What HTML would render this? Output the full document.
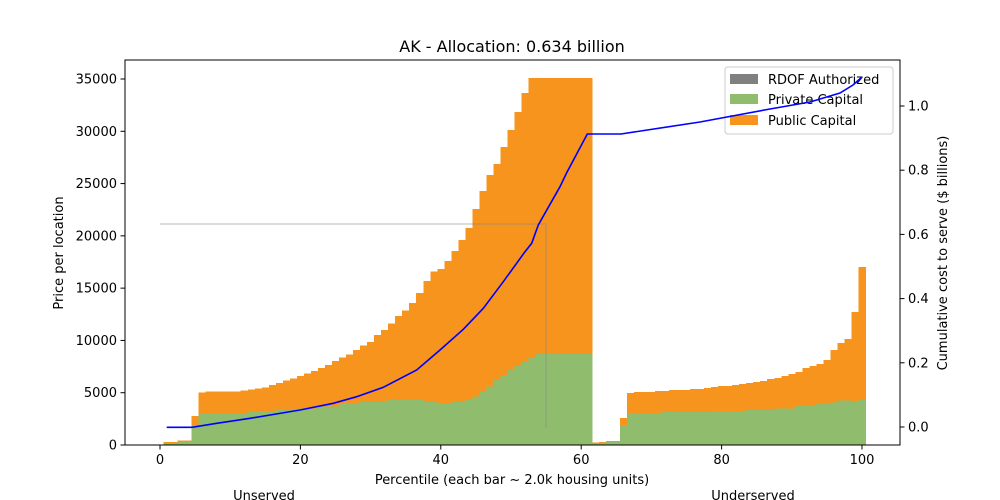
<!DOCTYPE html>
<html><head><meta charset="utf-8"><style>
body{margin:0;background:#fff}
svg{display:block;font-family:"DejaVu Sans","Liberation Sans",sans-serif}
</style></head><body>
<svg id="s" width="1000" height="500" xmlns="http://www.w3.org/2000/svg">
<rect width="1000" height="500" fill="#fff"/>
<g id="bars" shape-rendering="crispEdges"></g>
<polyline points="160,224 546,224 546,428" fill="none" stroke="#888" stroke-opacity="0.3" stroke-width="2"/>
<rect x="125" y="60" width="775" height="385" fill="none" stroke="#000" stroke-width="1"/>
<g id="ticks" font-size="13" fill="#000"></g>
<text x="512" y="52" font-size="16" text-anchor="middle">AK - Allocation: 0.634 billion</text>
<text x="512" y="484" font-size="13" text-anchor="middle">Percentile (each bar ~ 2.0k housing units)</text>
<text x="264" y="500" font-size="13" text-anchor="middle">Unserved</text>
<text x="753" y="500" font-size="13" text-anchor="middle">Underserved</text>
<text transform="translate(63,253) rotate(-90)" font-size="13" text-anchor="middle">Price per location</text>
<text transform="translate(947,253) rotate(-90)" font-size="13" text-anchor="middle">Cumulative cost to serve ($ billions)</text>
<g>
<rect x="725" y="67" width="168" height="67" rx="3" fill="#fff" fill-opacity="0.8" stroke="#ccc"/>
<rect x="730" y="74" width="28" height="10" fill="#808080"/>
<rect x="730" y="94" width="28" height="10" fill="#90bd6d"/>
<rect x="730" y="115" width="28" height="10" fill="#f7941e"/>
<text x="768" y="84" font-size="13">RDOF Authorized</text>
<text x="768" y="104" font-size="13">Private Capital</text>
<text x="768" y="125" font-size="13">Public Capital</text>
</g>
<polyline id="cum" fill="none" stroke="#0000ff" stroke-width="1.6"/>
</svg>
<script>
(function(){
var NS="http://www.w3.org/2000/svg";
function el(p,t,a){var e=document.createElementNS(NS,t);for(var k in a)e.setAttribute(k,a[k]);p.appendChild(e);return e;}
var bars=document.getElementById("bars");
var tp={},grn={};
tp[1]=442;tp[2]=442;tp[3]=440.5;tp[4]=440.5;tp[5]=416;
grn[1]=443;grn[2]=443;grn[3]=442;grn[4]=442;grn[5]=425;
var zt=[997,995,995,995,995,995,992,989,986,982,975,969,962,956,948,940,933,924,915,903,893,883,870,856,846,825,810,790,768,752,729,699,663,635,627,603,573,540,504,447,393,345,312,261,210,156,99,54,54,54,54,54,54,54,54,54];
var zg=[1060,1060,1060,1060,1060,1060,1060,1055,1055,1055,1055,1050,1050,1050,1045,1045,1045,1040,1040,1040,1030,1030,1030,1025,1025,1025,1025,1020,1020,1020,1020,1020,1025,1025,1030,1030,1025,1025,1018,1010,995,980,960,945,930,918,905,892,880,880,880,880,880,880,880,880];
for(var i=6;i<=61;i++){tp[i]=60+zt[i-6]/3;grn[i]=60+zg[i-6]/3;}
var rt={62:578,63:576,64:573,65:573,66:504,67:429,68:426,69:426,70:426,71:423,72:423,73:420,74:420,75:420,76:417,77:417,78:414,79:411,80:408,81:408,82:405,83:402,84:399,85:396,86:393,87:387,88:384,89:378,90:372,91:366,92:354,93:348,94:342,95:330,96:300,97:279,98:267,99:186,100:51};
var rg={62:580,63:579,64:576,65:576,66:527};
for(var i=62;i<=100;i++){tp[i]=250+rt[i]/3;var g;
 if(rg[i])g=rg[i];else if(i<=71)g=490;else if(i<=78)g=486;else if(i<=83)g=484;else if(i<=87)g=480;else if(i<=90)g=476;else if(i<=93)g=468;else if(i<=95)g=462;else if(i<=96)g=458;else if(i<=98)g=451;else if(i==99)g=454;else g=450;
 grn[i]=250+g/3;}
for(var i=1;i<=100;i++){var x=160+7.02*(i-0.5);
 el(bars,"rect",{x:x.toFixed(2),y:tp[i].toFixed(2),width:7.6,height:(445-tp[i]).toFixed(2),fill:"#f7941e"});}
for(var i=1;i<=100;i++){var x=160+7.02*(i-0.5);
 el(bars,"rect",{x:x.toFixed(2),y:grn[i].toFixed(2),width:7.6,height:(445-grn[i]).toFixed(2),fill:"#90bd6d"});}
var zp=[[50,1102],[126,1102],[200,1090],[300,1075],[450,1050],[550,1030],[620,1010],[700,982],[800,930],[870,870],[940,808],[1000,745],[1060,665],[1125,575],[1145,550],[1165,495],[1230,380],[1250,338],[1312,222],[1330,222]];
var pts=zp.map(function(p){return (150+p[0]/3).toFixed(1)+","+(60+p[1]/3).toFixed(1)});
pts.push("621,134","700,122","770,109","810,102","840,93","853,85","862,77");
document.getElementById("cum").setAttribute("points",pts.join(" "));
var tk=document.getElementById("ticks");
for(var v=0;v<=100;v+=20){var x=160+7.02*v;el(tk,"line",{x1:x,x2:x,y1:445,y2:449.5,stroke:"#000"});var t=el(tk,"text",{x:x,y:464,"text-anchor":"middle"});t.textContent=v;}
for(var v=0;v<=35000;v+=5000){var y=445-v*0.010457;el(tk,"line",{x1:120.5,x2:125,y1:y,y2:y,stroke:"#000"});var t=el(tk,"text",{x:117,y:y+4.5,"text-anchor":"end"});t.textContent=v;}
for(var k=0;k<=5;k++){var y=427-k*64.2;el(tk,"line",{x1:900,x2:904.5,y1:y,y2:y,stroke:"#000"});var t=el(tk,"text",{x:908,y:y+4.5});t.textContent=(k*0.2).toFixed(1);}
})();
</script>
</body></html>
